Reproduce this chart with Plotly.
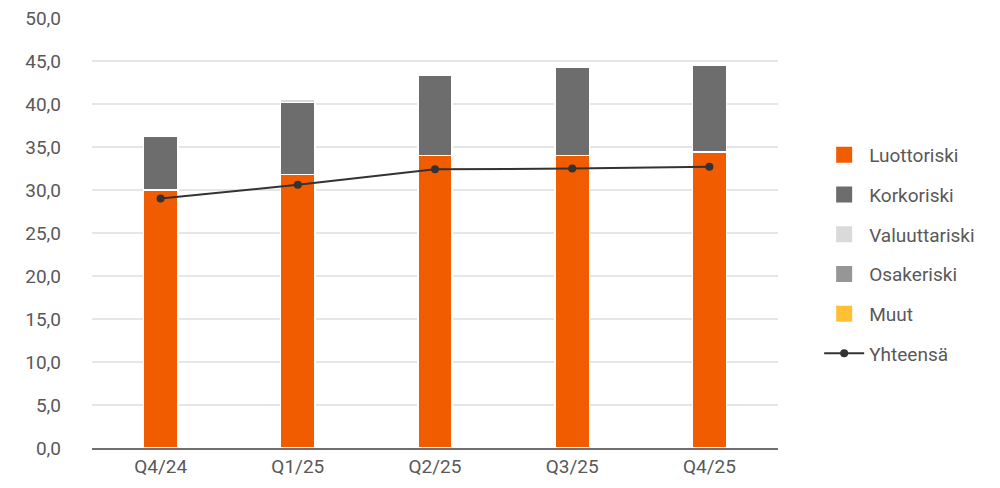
import plotly.graph_objects as go

categories = ["Q4/24", "Q1/25", "Q2/25", "Q3/25", "Q4/25"]
luottoriski = [30.0, 31.8, 34.0, 34.0, 34.4]
korkoriski = [6.2, 8.4, 9.4, 10.3, 10.1]
valuuttariski = [0.0, 0.3, 0.0, 0.0, 0.0]
osakeriski = [0.0, 0.0, 0.0, 0.0, 0.0]
muut = [0.0, 0.0, 0.0, 0.0, 0.0]
yhteensa = [29.0, 30.6, 32.4, 32.5, 32.7]
y_ticks = [0, 5, 10, 15, 20, 25, 30, 35, 40, 45, 50]
y_tick_labels = ["0,0", "5,0", "10,0", "15,0", "20,0", "25,0", "30,0", "35,0", "40,0", "45,0", "50,0"]

series = [
    ("Luottoriski", luottoriski, "#F25C00"),
    ("Korkoriski", korkoriski, "#6D6D6D"),
    ("Valuuttariski", valuuttariski, "#DADADA"),
    ("Osakeriski", osakeriski, "#969696"),
    ("Muut", muut, "#FFC133"),
]

fig = go.Figure()
for name, vals, col in series:
    fig.add_trace(go.Bar(
        x=categories, y=vals, name=name, marker_color=col,
        marker_line=dict(color="white", width=1.5),
        showlegend=False, hoverinfo="y+name",
    ))
    # legend proxy with large square swatch
    fig.add_trace(go.Scatter(
        x=[None], y=[None], mode="markers", name=name, legendgroup=name,
        marker=dict(symbol="square", size=19, color=col),
    ))

fig.add_trace(go.Scatter(
    x=categories, y=yhteensa, name="Yhteensä", legendgroup="Yhteensä",
    mode="lines+markers",
    line=dict(color="#333333", width=2),
    marker=dict(color="#333333", size=8),
))

fig.update_layout(
    width=1000, height=488,
    barmode="stack", bargap=0.75,
    plot_bgcolor="white", paper_bgcolor="white",
    margin=dict(l=92, r=222, t=18, b=40, autoexpand=False),
    font=dict(family="Roboto", size=19, color="#595959"),
    legend=dict(
        x=1.06, xanchor="left", y=0.45, yanchor="middle",
        xref="paper", yref="paper",
        font=dict(size=19, color="#595959"),
        traceorder="grouped", tracegroupgap=12,
        itemwidth=40,
        bgcolor="rgba(0,0,0,0)",
    ),
    xaxis=dict(
        showgrid=False, showline=True, linecolor="#6F6F6F", linewidth=2,
        ticks="", tickfont=dict(size=19, color="#595959"),
        automargin=False,
    ),
    yaxis=dict(
        range=[0, 50], tickvals=y_ticks, ticktext=y_tick_labels,
        showgrid=True, gridcolor="#E6E6E6", gridwidth=2,
        zeroline=False, showline=False, ticks="",
        ticklabelstandoff=30, automargin=False,
        tickfont=dict(size=19, color="#595959"),
    ),
)

fig.write_html("out.html", config={"displayModeBar": False},
               post_script="document.body.style.margin='0';")
